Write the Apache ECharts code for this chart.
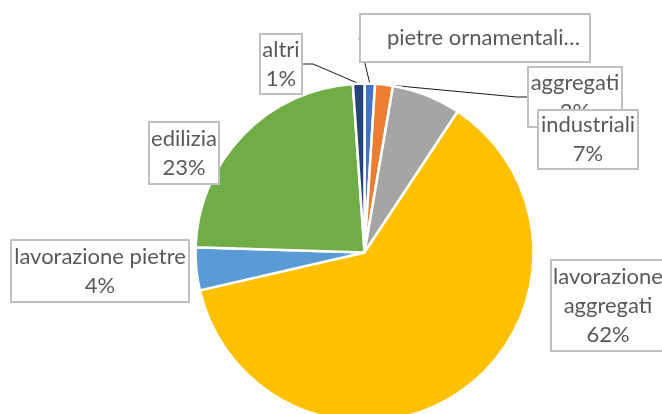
<!DOCTYPE html>
<html>
<head>
<meta charset="utf-8">
<script src="https://cdn.jsdelivr.net/npm/echarts@6/dist/echarts.min.js"></script>
<style>
html,body{margin:0;padding:0;background:#fff;}
#chart{width:662px;height:414px;}
</style>
</head>
<body>
<div id="chart"></div>
<script>
// Data
var categories = ['pietre ornamentali', 'aggregati', 'industriali', 'lavorazione aggregati', 'lavorazione pietre', 'edilizia', 'altri'];
var values = [1.0, 1.7, 6.6, 62.1, 4.1, 23.4, 1.1];
var colors = ['#4472C4', '#ED7D31', '#A5A5A5', '#FFC000', '#5B9BD5', '#70AD47', '#264478'];

// Label layout (box centers and sizes), styling only
var labelCenters = [[475, 38], [575, 97], [588, 139.5], [608, 305.5], [100, 271], [184, 153], [281, 64]];
var labelBoxes = [[228, 48], [92, 58], [98, 57], [112, 89], [176, 60], [68, 60], [40, 58]];
var showLine = [true, true, false, false, false, false, true];

var chart = echarts.init(document.getElementById('chart'));
var data = categories.map(function (c, i) {
  var box = labelBoxes[i];
  var item = {
    name: c,
    value: values[i],
    itemStyle: { color: colors[i] },
    labelLine: { show: showLine[i] },
    label: {}
  };
  if (i === 0) {
    item.label.padding = [0, 6, 0, 23];
    item.label.width = box[0] - 29;
    item.labelLine.length2 = 0;
  } else {
    item.label.width = box[0] - 2;
  }
  item.label.height = box[1] - 2;
  return item;
});

chart.setOption({
  animation: false,
  series: [{
    type: 'pie',
    center: [364.5, 252.5],
    radius: 169,
    startAngle: 90,
    clockwise: true,
    avoidLabelOverlap: false,
    data: data,
    itemStyle: { borderColor: '#ffffff', borderWidth: 2.5 },
    label: {
      show: true,
      position: 'outside',
      fontFamily: 'Lato',
      fontSize: 22,
      lineHeight: 29,
      color: '#595959',
      backgroundColor: '#ffffff',
      borderColor: '#bfbfbf',
      borderWidth: 2,
      padding: 1,
      align: 'center',
      verticalAlign: 'middle',
      overflow: 'none',
      formatter: function (p) {
        if (p.dataIndex === 0) return p.name + '…';
        var n = p.name;
        if (p.dataIndex === 3) n = n.replace(' ', '\n');
        return n + '\n' + Math.round(p.percent) + '%';
      }
    },
    labelLine: {
      show: true,
      length: 10,
      length2: 10,
      lineStyle: { color: '#1a1a1a', width: 1 }
    },
    labelLayout: function (params) {
      var c = labelCenters[params.dataIndex];
      return { x: c[0], y: c[1], align: 'center', verticalAlign: 'middle', hideOverlap: false, moveOverlap: null };
    }
  }]
});
</script>
</body>
</html>
